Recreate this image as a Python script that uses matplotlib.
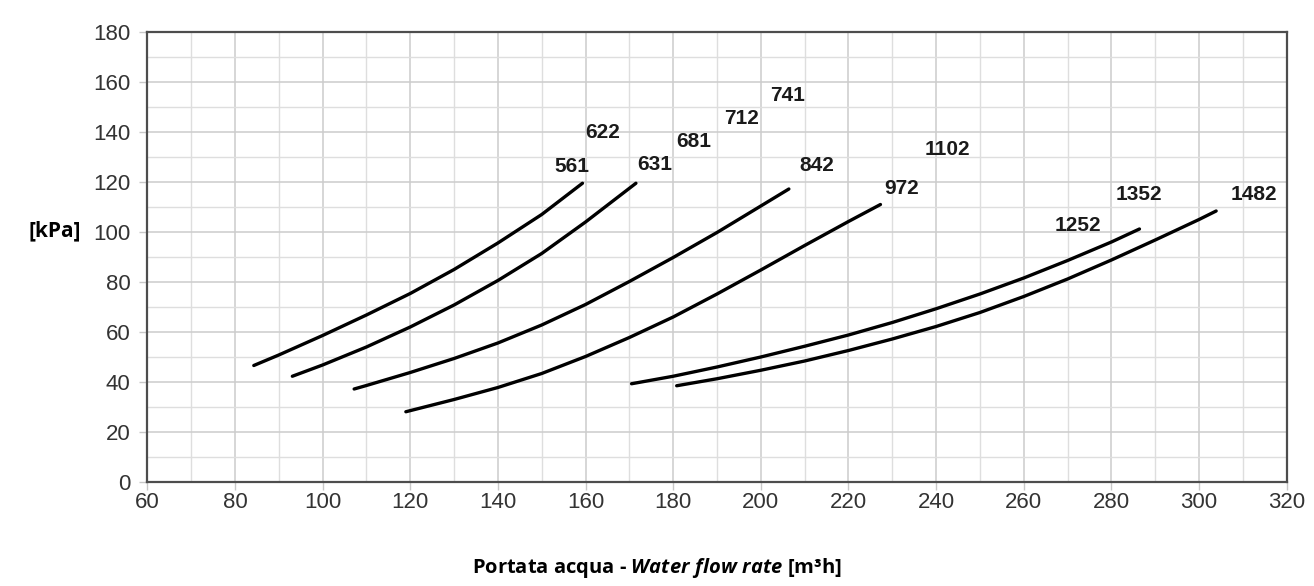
import numpy as np
import matplotlib.pyplot as plt
from matplotlib.ticker import MultipleLocator

plt.rcParams['mathtext.fontset'] = 'custom'
plt.rcParams['mathtext.it'] = 'Open Sans:italic:bold'
plt.rcParams['mathtext.rm'] = 'Open Sans:bold'
plt.rcParams['mathtext.bf'] = 'Open Sans:bold'

# curves: water flow rate [m3/h] -> pressure drop [kPa]
x_561 = [84.3, 90, 100, 110, 120, 130, 140, 150, 159.3]
y_561 = [46.6, 50.8, 58.6, 66.8, 75.4, 85.0, 95.6, 107.0, 119.5]

x_631 = [93.1, 100, 110, 120, 130, 140, 150, 160, 171.5]
y_631 = [42.3, 46.8, 54.0, 62.0, 70.8, 80.6, 91.4, 104.0, 119.5]

x_842 = [107.2, 110, 120, 130, 140, 150, 160, 170, 180, 190, 200, 206.4]
y_842 = [37.2, 38.6, 43.8, 49.4, 55.6, 62.8, 71.0, 80.2, 89.8, 99.8, 110.4, 117.2]

x_972 = [119.0, 130, 140, 150, 160, 170, 180, 190, 200, 210, 220, 227.3]
y_972 = [28.1, 33.0, 37.8, 43.4, 50.2, 57.8, 66.0, 75.2, 84.8, 94.6, 104.2, 111.0]

x_1252 = [170.5, 180, 190, 200, 210, 220, 230, 240, 250, 260, 270, 280, 286.4]
y_1252 = [39.3, 42.3, 46.0, 50.0, 54.3, 58.8, 63.8, 69.3, 75.2, 81.6, 88.6, 96.0, 101.2]

x_1482 = [180.8, 190, 200, 210, 220, 230, 240, 250, 260, 270, 280, 290, 300, 303.9]
y_1482 = [38.5, 41.3, 44.7, 48.4, 52.6, 57.2, 62.2, 67.8, 74.2, 81.2, 88.8, 96.8, 105.0, 108.4]

curves = [(x_561, y_561), (x_631, y_631), (x_842, y_842),
          (x_972, y_972), (x_1252, y_1252), (x_1482, y_1482)]

# model labels and where they sit in data coordinates
label_text = ['561', '622', '631', '681', '712', '741', '842',
              '1102', '972', '1352', '1252', '1482']
label_x = [156.9, 163.9, 175.9, 184.8, 195.5, 206.0, 212.8,
           242.5, 232.2, 286.3, 272.3, 312.6]
label_y = [126.3, 139.7, 126.8, 136.1, 145.5, 154.5, 126.7,
           133.0, 117.5, 114.8, 102.5, 114.8]

fig = plt.figure(figsize=(13.14, 5.86), dpi=100)
ax = fig.add_axes([147.3 / 1314, 1 - 482 / 586, (1286.7 - 147.3) / 1314, (482 - 32) / 586])

for xs, ys in curves:
    ax.plot(xs, ys, color='black', lw=2.4, solid_capstyle='round',
            solid_joinstyle='round', zorder=3)

for t, lx, ly in zip(label_text, label_x, label_y):
    ax.text(lx, ly, t, ha='center', va='center', fontsize=15, fontweight='bold',
            color='#1a1a1a', family='Liberation Sans')

ax.set_xlim(60, 320)
ax.set_ylim(0, 180)
ax.xaxis.set_major_locator(MultipleLocator(20))
ax.xaxis.set_minor_locator(MultipleLocator(10))
ax.yaxis.set_major_locator(MultipleLocator(20))
ax.yaxis.set_minor_locator(MultipleLocator(10))
ax.grid(which='major', color='#cccccc', lw=1.1)
ax.grid(which='minor', color='#dedede', lw=1.0)
ax.set_axisbelow(True)

for s in ax.spines.values():
    s.set_color('#4d4d4d')
    s.set_linewidth(1.6)

ax.tick_params(which='major', direction='out', length=6, width=1, color='#c8c8c8',
               labelsize=16, labelcolor='#333333')
ax.tick_params(axis='x', which='major', pad=1)
ax.tick_params(axis='y', which='major', pad=6)
ax.tick_params(which='minor', length=0)
for lab in ax.get_xticklabels() + ax.get_yticklabels():
    lab.set_family('Liberation Sans')

fig.text(55 / 1314, 1 - 231 / 586, '[kPa]', ha='center', va='center',
         fontsize=15, fontweight='bold', family='Open Sans', color='black')
fig.text(657 / 1314, 1 - 568 / 586,
         r'Portata acqua - $\mathit{Water\ flow\ rate}$ [m³h]',
         ha='center', va='center', fontsize=14.5, fontweight='bold',
         family='Open Sans', color='black')

plt.savefig('out.png', dpi=100)
